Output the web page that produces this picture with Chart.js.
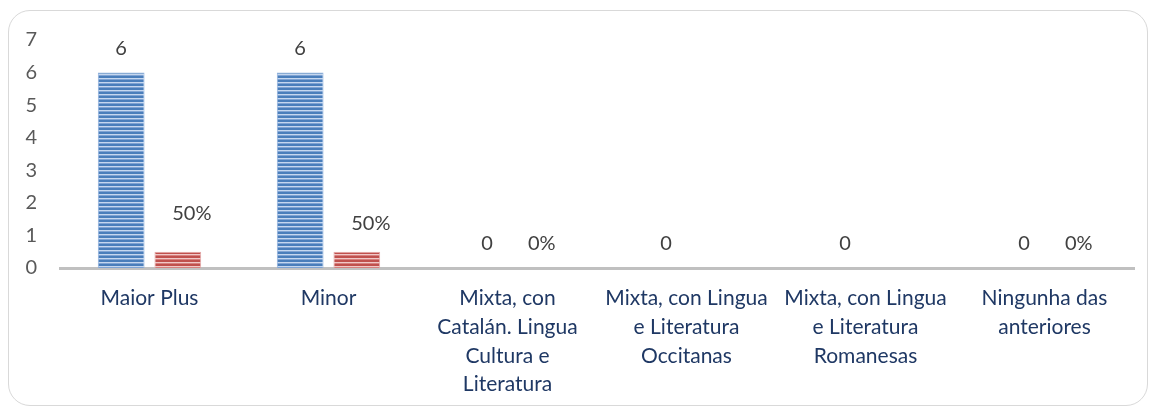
<!DOCTYPE html>
<html>
<head>
<meta charset="utf-8">
<script src="https://cdn.jsdelivr.net/npm/chart.js@4.4.1/dist/chart.umd.min.js"></script>
<style>
html,body{margin:0;padding:0;background:#fff;}
#wrap{position:relative;width:1154px;height:411px;}
#frame{position:absolute;left:8px;top:10px;width:1140px;height:396px;border:1.5px solid #d9d9d9;border-radius:22px;box-sizing:border-box;}
canvas{position:absolute;left:0;top:0;}
</style>
</head>
<body>
<div id="wrap"><div id="frame"></div><canvas id="c" width="1154" height="411"></canvas></div>
<script>
const categories = [
  ["Maior Plus"],
  ["Minor"],
  ["Mixta, con", "Catalán. Lingua", "Cultura e", "Literatura"],
  ["Mixta, con Lingua", "e Literatura", "Occitanas"],
  ["Mixta, con Lingua", "e Literatura", "Romanesas"],
  ["Ningunha das", "anteriores"]
];
const countValues = [6, 6, 0, 0, 0, 0];
const percentValues = [0.5, 0.5, 0, null, null, 0];
const yTicks = [0, 1, 2, 3, 4, 5, 6, 7];

function stripePattern(dark, light, mid) {
  const p = document.createElement('canvas');
  p.width = 8; p.height = 4;
  const g = p.getContext('2d');
  g.fillStyle = dark; g.fillRect(0, 0, 8, 2);
  g.fillStyle = light; g.fillRect(0, 2, 8, 1);
  g.fillStyle = mid; g.fillRect(0, 3, 8, 1);
  return g.createPattern(p, 'repeat');
}
const ctx = document.getElementById('c').getContext('2d');
const bluePat = stripePattern('#4a7ebb', '#c5d7ef', '#7fa3d3');
const redPat = stripePattern('#c0504d', '#f0c8c7', '#d6807e');

const FONT = 'Lato, "Open Sans", sans-serif';
const labelPlugin = {
  id: 'valLabels',
  afterDatasetsDraw(chart) {
    const c = chart.ctx;
    c.save();
    c.font = '20px ' + FONT;
    c.fillStyle = '#404040';
    c.textAlign = 'center';
    c.textBaseline = 'middle';
    chart.data.datasets.forEach((ds, di) => {
      const meta = chart.getDatasetMeta(di);
      meta.data.forEach((el, i) => {
        const v = ds.data[i];
        if (v === null || v === undefined) return;
        const txt = di === 0 ? String(v) : Math.round(v * 100) + '%';
        let dx = 0, dy = 24;
        if (di === 1 && v > 0) { dx = 14; dy = i === 0 ? 38 : 28; }
        if (di === 1 && v === 0) { dx = 6; }
        if (di === 0 && v === 0) { dx = 8; }
        c.fillText(txt, el.x + dx, el.y - dy);
      });
    });
    c.restore();
  }
};

new Chart(ctx, {
  type: 'bar',
  data: {
    labels: categories,
    datasets: [
      { label: 'Número', data: countValues, backgroundColor: bluePat, borderColor: '#8eb0dc', borderWidth: 1 },
      { label: 'Porcentaxe', data: percentValues, backgroundColor: redPat, borderColor: '#e3a9a8', borderWidth: 1 }
    ]
  },
  options: {
    responsive: false,
    animation: false,
    devicePixelRatio: 1,
    layout: { padding: { left: 0, right: 20, top: 40, bottom: 0 } },
    plugins: { legend: { display: false }, tooltip: { enabled: false } },
    datasets: { bar: { categoryPercentage: 0.633, barPercentage: 0.825 } },
    scales: {
      x: {
        grid: { display: false },
        border: { display: true, color: '#c0c0c0', width: 3 },
        ticks: {
          color: '#1f3864',
          font: { family: FONT, size: 21, lineHeight: 1.37 },
          padding: 8,
          maxRotation: 0, autoSkip: false
        },
        afterFit(s) { s.height = 143; }
      },
      y: {
        min: 0, max: 7,
        afterBuildTicks(s) { s.ticks = yTicks.map(v => ({ value: v })); },
        grid: { display: false },
        border: { display: false },
        ticks: {
          color: '#595959',
          font: { family: FONT, size: 20 },
          padding: 15
        },
        afterFit(s) { s.width = 60; }
      }
    }
  },
  plugins: [labelPlugin]
});
</script>
</body>
</html>
